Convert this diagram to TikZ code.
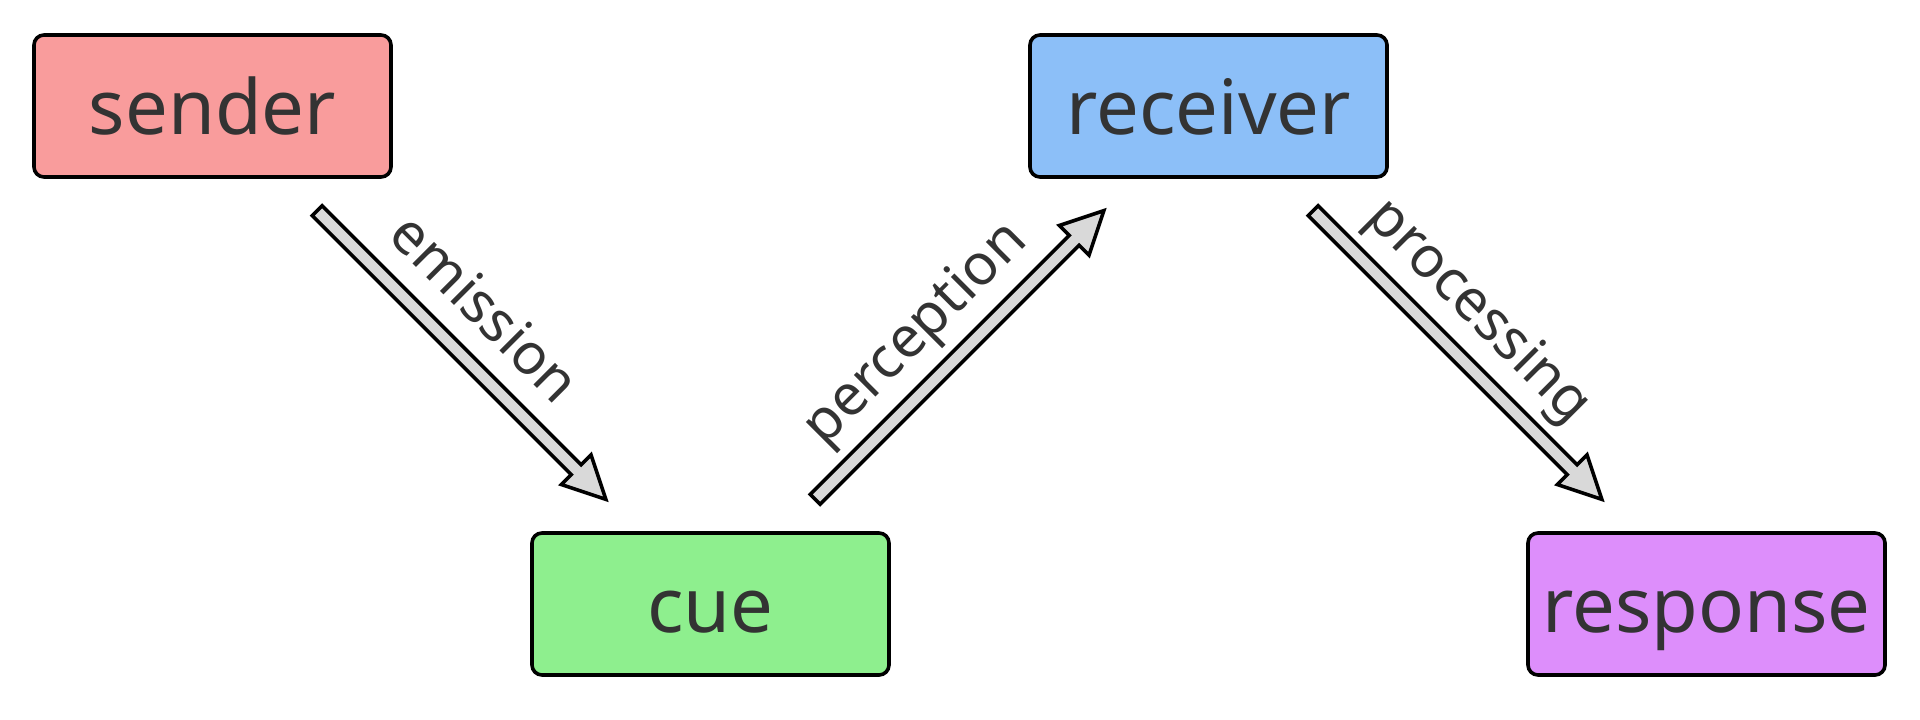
\documentclass[tikz,border=0pt]{standalone}
\usepackage{fontspec}
\setmainfont{Noto Sans}
\usetikzlibrary{positioning,calc}

\definecolor{senderred}{HTML}{F99C9C}
\definecolor{cuegreen}{HTML}{8EEF8E}
\definecolor{receiverblue}{HTML}{8CBFF8}
\definecolor{responseviolet}{HTML}{DD8EFB}
\definecolor{arrowgray}{HTML}{D9D9D9}
\definecolor{textgray}{HTML}{333333}

% fat arrow from one box towards the next, with its label on the left side
\newcommand{\fatarrow}[3]{%
    \path ($(#1)!74pt!(#2)$) coordinate (tail)
          ($(#2)!74pt!(#1)$) coordinate (tip)
          ($(tip)!21pt!(tail)$) coordinate (neck);
    \filldraw[fat] ($(tail)!3.5pt!90:(tip)$) -- ($(neck)!3.5pt!90:(tip)$)
        -- ($(neck)!10.5pt!90:(tip)$) -- (tip) -- ($(neck)!10.5pt!-90:(tip)$)
        -- ($(neck)!3.5pt!-90:(tip)$) -- ($(tail)!3.5pt!-90:(tip)$) -- cycle;
    \path ($(tail)!15pt!90:(tip)$) -- node[flow, sloped, anchor=base, pos=.46] {#3} ($(tip)!15pt!-90:(tail)$);
}

\begin{document}
\begin{tikzpicture}[
    node distance=249pt and 249pt, on grid,
    box/.style={rectangle, rounded corners=5pt, draw=black, line width=1.8pt, minimum width=178.5pt, minimum height=71pt, inner sep=0pt, text=textgray, font=\fontsize{38}{46}\selectfont, text height=38pt, text depth=9.5pt},
    flow/.style={inner sep=0pt, text=textgray, font=\fontsize{28.5}{34}\selectfont},
    fat/.style={draw=black, fill=arrowgray, line width=1.8pt, line join=miter},
]
    \useasboundingbox (-106.25pt,53pt) rectangle (853.75pt,-306.5pt);

    \node[box, fill=senderred] (sender) {sender};
    \node[box, fill=cuegreen, below right=of sender] (cue) {cue};
    \node[box, fill=receiverblue, above right=of cue] (receiver) {receiver};
    \node[box, fill=responseviolet, below right=of receiver] (response) {response};

    % Arrows between the boxes
    \fatarrow{sender}{cue}{emission}
    \fatarrow{cue}{receiver}{perception}
    \fatarrow{receiver}{response}{processing}
\end{tikzpicture}
\end{document}
